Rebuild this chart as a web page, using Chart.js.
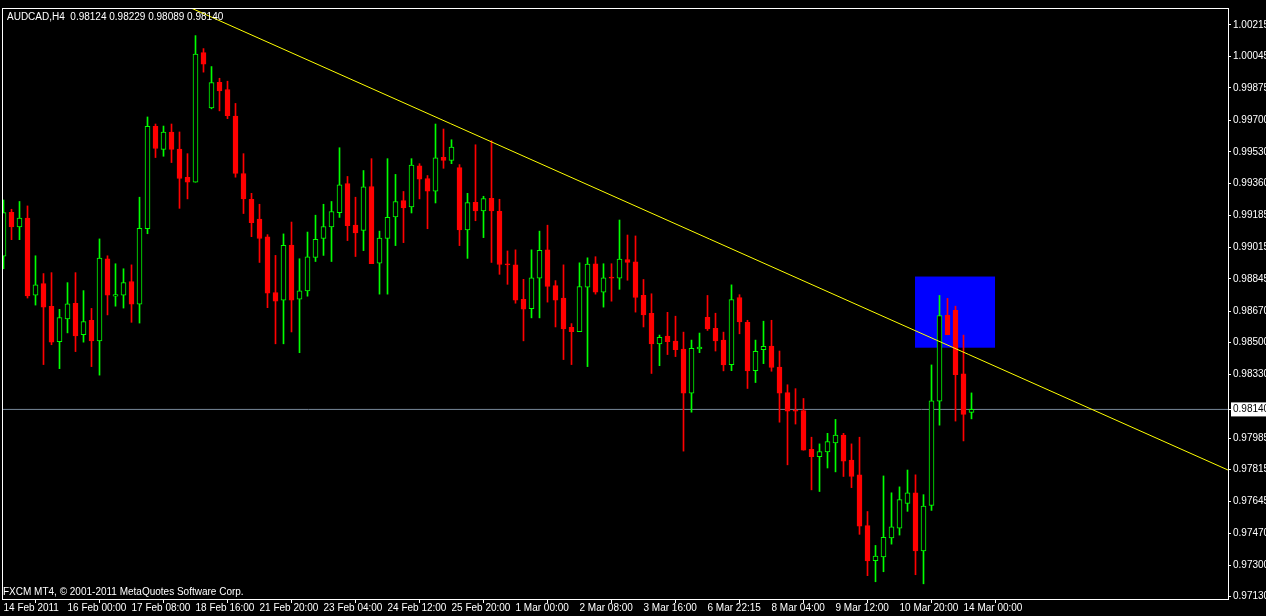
<!DOCTYPE html>
<html>
<head>
<meta charset="utf-8">
<title>AUDCAD H4</title>
<script src="https://cdn.jsdelivr.net/npm/chart.js@4"></script>
<style>
  html, body { margin: 0; padding: 0; background: #000; }
  canvas { display: block; }
</style>
</head>
<body>
<canvas id="chart" width="1266" height="616"></canvas>
<script>
// --- 1. DATA (AUDCAD H4) ---

const symbol = 'AUDCAD';
const period = 'H4';

// one entry per H4 bar, bar index 0..121
const opens = [
  0.98967, 0.99204, 0.99125, 0.99172, 0.98757, 0.98819, 0.98696, 0.98505, 0.98628, 0.98712,
  0.98543, 0.98621, 0.98510, 0.98953, 0.98751, 0.98757, 0.98830, 0.98708, 0.99115, 0.99668,
  0.99543, 0.99637, 0.99545, 0.99392, 0.99366, 1.00065, 0.99767, 0.99905, 0.99866, 0.99723,
  0.99413, 0.99274, 0.99167, 0.99071, 0.98771, 0.98730, 0.99027, 0.98735, 0.98780, 0.98960,
  0.99062, 0.99125, 0.99202, 0.99359, 0.99134, 0.99106, 0.99343, 0.98929, 0.99062, 0.99179,
  0.99267, 0.99232, 0.99455, 0.99385, 0.99318, 0.99500, 0.99484, 0.99445, 0.99109, 0.99258,
  0.99211, 0.99279, 0.99209, 0.98926, 0.98920, 0.98734, 0.98683, 0.98848, 0.99001, 0.98808,
  0.98741, 0.98583, 0.98560, 0.98799, 0.98926, 0.98772, 0.98851, 0.98848, 0.98948, 0.98937,
  0.98755, 0.98659, 0.98494, 0.98536, 0.98509, 0.98466, 0.98227, 0.98467, 0.98637, 0.98578,
  0.98514, 0.98382, 0.98744, 0.98610, 0.98349, 0.98462, 0.98482, 0.98369, 0.98231, 0.98135,
  0.98134, 0.97925, 0.97885, 0.97911, 0.97959, 0.98001, 0.97867, 0.97787, 0.97513, 0.97324,
  0.97344, 0.97446, 0.97499, 0.97633, 0.97690, 0.97376, 0.97622, 0.98184, 0.98648, 0.98674,
  0.98332, 0.98124
];
const highs = [
  0.99270, 0.99220, 0.99262, 0.99238, 0.98969, 0.98873, 0.98878, 0.98680, 0.98824, 0.98878,
  0.98781, 0.98685, 0.99060, 0.98969, 0.98926, 0.98899, 0.98920, 0.99285, 0.99718, 0.99680,
  0.99669, 0.99680, 0.99637, 0.99520, 1.00157, 1.00087, 0.99990, 0.99927, 0.99911, 0.99791,
  0.99520, 0.99306, 0.99247, 0.99083, 0.98971, 0.99087, 0.99151, 0.98953, 0.99097, 0.99188,
  0.99247, 0.99262, 0.99552, 0.99397, 0.99285, 0.99429, 0.99493, 0.99102, 0.99493, 0.99408,
  0.99316, 0.99493, 0.99466, 0.99402, 0.99680, 0.99653, 0.99595, 0.99461, 0.99306, 0.99568,
  0.99290, 0.99590, 0.99274, 0.98995, 0.99001, 0.98842, 0.99001, 0.99102, 0.99134, 0.98835,
  0.98920, 0.98603, 0.98931, 0.98958, 0.98964, 0.98926, 0.98926, 0.99162, 0.99081, 0.99076,
  0.98841, 0.98764, 0.98541, 0.98664, 0.98643, 0.98557, 0.98514, 0.98552, 0.98755, 0.98659,
  0.98557, 0.98812, 0.98759, 0.98621, 0.98514, 0.98616, 0.98621, 0.98455, 0.98273, 0.98252,
  0.98199, 0.97990, 0.97954, 0.98011, 0.98086, 0.98011, 0.97954, 0.97990, 0.97589, 0.97406,
  0.97781, 0.97690, 0.97722, 0.97813, 0.97787, 0.97680, 0.98380, 0.98755, 0.98739, 0.98697,
  0.98541, 0.98229
];
const lows = [
  0.98899, 0.99056, 0.99056, 0.98741, 0.98703, 0.98382, 0.98489, 0.98360, 0.98553, 0.98452,
  0.98503, 0.98371, 0.98325, 0.98650, 0.98697, 0.98687, 0.98610, 0.98606, 0.99088, 0.99499,
  0.99506, 0.99472, 0.99225, 0.99276, 0.99366, 0.99960, 0.99762, 0.99751, 0.99709, 0.99393,
  0.99197, 0.99072, 0.98933, 0.98689, 0.98494, 0.98494, 0.98558, 0.98446, 0.98751, 0.98938,
  0.98971, 0.98938, 0.99176, 0.99051, 0.98965, 0.98997, 0.98927, 0.98762, 0.98762, 0.99024,
  0.99040, 0.99200, 0.99276, 0.99115, 0.99254, 0.99441, 0.99466, 0.99024, 0.98955, 0.99158,
  0.99067, 0.98933, 0.98869, 0.98815, 0.98713, 0.98510, 0.98634, 0.98634, 0.98719, 0.98585,
  0.98409, 0.98382, 0.98560, 0.98371, 0.98762, 0.98692, 0.98724, 0.98788, 0.98837, 0.98665,
  0.98585, 0.98334, 0.98376, 0.98436, 0.98425, 0.97915, 0.98125, 0.98446, 0.98566, 0.98455,
  0.98348, 0.98349, 0.98548, 0.98253, 0.98285, 0.98387, 0.98346, 0.98071, 0.97841, 0.98061,
  0.97920, 0.97706, 0.97697, 0.97824, 0.97803, 0.97778, 0.97718, 0.97466, 0.97243, 0.97210,
  0.97264, 0.97413, 0.97462, 0.97590, 0.97248, 0.97199, 0.97595, 0.98055, 0.98543, 0.98077,
  0.97970, 0.98089
];
const closes = [
  0.99202, 0.99125, 0.99172, 0.98753, 0.98812, 0.98692, 0.98503, 0.98636, 0.98710, 0.98537,
  0.98614, 0.98510, 0.98957, 0.98757, 0.98760, 0.98824, 0.98708, 0.99117, 0.99668, 0.99548,
  0.99636, 0.99543, 0.99386, 0.99366, 1.00058, 1.00003, 0.99904, 0.99858, 0.99725, 0.99414,
  0.99276, 0.99147, 0.99062, 0.98767, 0.98724, 0.99026, 0.98730, 0.98780, 0.98964, 0.99058,
  0.99127, 0.99208, 0.99352, 0.99131, 0.99093, 0.99341, 0.98927, 0.99064, 0.99176, 0.99262,
  0.99227, 0.99459, 0.99383, 0.99318, 0.99497, 0.99484, 0.99555, 0.99109, 0.99256, 0.99211,
  0.99278, 0.99211, 0.98922, 0.98920, 0.98730, 0.98681, 0.98850, 0.98999, 0.98804, 0.98730,
  0.98574, 0.98560, 0.98803, 0.98924, 0.98772, 0.98850, 0.98848, 0.98951, 0.98933, 0.98744,
  0.98650, 0.98494, 0.98529, 0.98505, 0.98462, 0.98227, 0.98469, 0.98476, 0.98574, 0.98509,
  0.98380, 0.98732, 0.98612, 0.98348, 0.98453, 0.98480, 0.98366, 0.98227, 0.98130, 0.98130,
  0.97920, 0.97885, 0.97913, 0.97966, 0.98001, 0.97861, 0.97778, 0.97510, 0.97322, 0.97348,
  0.97450, 0.97506, 0.97653, 0.97690, 0.97376, 0.97619, 0.98186, 0.98646, 0.98543, 0.98327,
  0.98113, 0.98140
];

// time axis: a label every 8 bars
const xTickBars = [0, 8, 16, 24, 32, 40, 48, 56, 64, 72, 80, 88, 96, 104, 112, 120];
const xTickLabels = [
  '14 Feb 2011', '16 Feb 00:00', '17 Feb 08:00', '18 Feb 16:00', '21 Feb 20:00',
  '23 Feb 04:00', '24 Feb 12:00', '25 Feb 20:00', '1 Mar 00:00', '2 Mar 08:00',
  '3 Mar 16:00', '6 Mar 22:15', '8 Mar 04:00', '9 Mar 12:00', '10 Mar 20:00', '14 Mar 00:00'
];

// price axis labels
const yTickValues = [
  1.00215, 1.00045, 0.99875, 0.99700, 0.99530, 0.99360, 0.99185, 0.99015, 0.98845,
  0.98670, 0.98500, 0.98330, 0.98140, 0.97985, 0.97815, 0.97645, 0.97470, 0.97300, 0.97130
];

const bidPrice = 0.98140;

// trend line anchors (bar index, price)
const trendX = [23.44, 153.06];
const trendY = [1.00306, 0.97813];

// blue rectangle object (bar index range, price range)
const boxX = [113.94, 123.94];
const boxY = [0.98473, 0.98857];

const copyrightText = 'FXCM MT4, \u00a9 2001-2011 MetaQuotes Software Corp.';

// visible range of the window
const xMin = -0.1875, xMax = 153.0625;
const yMin = 0.97117, yMax = 1.00306;

// --- 2. BUILD DATASETS ---

const GREEN = '#00ff00';
const RED = '#ff0000';
const FONT = { family: '"Liberation Sans", Arial, sans-serif', size: 10 };

const isUp = closes.map((c, i) => c >= opens[i]);
const wickData = opens.map((o, i) => ({ x: i, y: [lows[i], highs[i]] }));
const bodyData = opens.map((o, i) => ({ x: i, y: [o, closes[i]] }));

const last = opens.length - 1;
const titleText = symbol + ',' + period + '  ' +
  [opens[last], highs[last], lows[last], closes[last]].map(v => v.toFixed(5)).join(' ');

// black background, blue box behind the candles
const backdropPlugin = {
  id: 'backdrop',
  beforeDraw(chart) {
    const { ctx, width, height } = chart;
    ctx.save();
    ctx.fillStyle = '#000';
    ctx.fillRect(0, 0, width, height);
    ctx.restore();
  },
  beforeDatasetsDraw(chart) {
    const { ctx, chartArea, scales } = chart;
    const x0 = scales.x.getPixelForValue(boxX[0]);
    const x1 = scales.x.getPixelForValue(boxX[1]);
    const y0 = scales.y.getPixelForValue(boxY[1]);
    const y1 = scales.y.getPixelForValue(boxY[0]);
    ctx.save();
    ctx.beginPath();
    ctx.rect(chartArea.left, chartArea.top, chartArea.width, chartArea.height);
    ctx.clip();
    ctx.fillStyle = '#0000ff';
    ctx.fillRect(x0, y0, x1 - x0, y1 - y0);
    ctx.restore();
  }
};

// white frame + the two text lines MT4 prints on the chart
const framePlugin = {
  id: 'frame',
  afterDraw(chart) {
    const { ctx, chartArea } = chart;
    ctx.save();
    ctx.strokeStyle = '#fff';
    ctx.lineWidth = 1;
    ctx.strokeRect(chartArea.left + 0.5, chartArea.top + 0.5,
      chartArea.right - chartArea.left, chartArea.bottom - chartArea.top);
    ctx.fillStyle = '#fff';
    ctx.font = FONT.size + 'px ' + FONT.family;
    ctx.textBaseline = 'alphabetic';
    ctx.fillText(titleText, chartArea.left + 5, chartArea.top + 12);
    ctx.fillText(copyrightText, chartArea.left + 1, chartArea.bottom - 4);
    ctx.restore();
  }
};

// --- 3. CHART ---

const chart = new Chart(document.getElementById('chart'), {
  type: 'bar',
  data: {
    datasets: [
      {
        type: 'line',
        data: [{ x: xMin, y: bidPrice }, { x: xMax, y: bidPrice }],
        borderColor: '#778899',
        borderWidth: 1,
        pointRadius: 0,
        order: 4,
        clip: 0
      },
      {
        data: wickData,
        backgroundColor: isUp.map(u => u ? GREEN : RED),
        borderWidth: 0,
        barThickness: 1,
        grouped: false,
        order: 3,
        clip: 0
      },
      {
        data: bodyData,
        backgroundColor: isUp.map(u => u ? '#000' : RED),
        borderColor: isUp.map(u => u ? GREEN : RED),
        borderWidth: 1,
        borderSkipped: false,
        barThickness: 5,
        minBarLength: 1,
        grouped: false,
        order: 2,
        clip: 0
      },
      {
        type: 'line',
        data: [{ x: trendX[0], y: trendY[0] }, { x: trendX[1], y: trendY[1] }],
        borderColor: '#ffff00',
        borderWidth: 1,
        pointRadius: 0,
        order: 1,
        clip: 0
      }
    ]
  },
  options: {
    responsive: false,
    animation: false,
    devicePixelRatio: 1,
    layout: { padding: { left: 2, top: 3, right: 0, bottom: 0 } },
    plugins: {
      legend: { display: false },
      tooltip: { enabled: false }
    },
    scales: {
      x: {
        type: 'linear',
        position: 'bottom',
        min: xMin,
        max: xMax,
        offset: false,
        afterBuildTicks: scale => { scale.ticks = xTickBars.map(v => ({ value: v })); },
        afterFit: scale => { scale.height = 17; },
        border: { display: false },
        grid: { drawOnChartArea: false, drawTicks: true, tickLength: 4, color: '#fff' },
        ticks: {
          color: '#fff',
          font: FONT,
          align: 'start',
          padding: -1,
          maxRotation: 0,
          autoSkip: false,
          callback: (value, index) => xTickLabels[index]
        }
      },
      y: {
        type: 'linear',
        position: 'right',
        min: yMin,
        max: yMax,
        afterBuildTicks: scale => { scale.ticks = yTickValues.map(v => ({ value: v })); },
        afterFit: scale => { scale.width = 38; },
        border: { display: false },
        grid: { drawOnChartArea: false, drawTicks: true, tickLength: 3, color: '#fff' },
        ticks: {
          color: ctx => (ctx.tick && Math.abs(ctx.tick.value - bidPrice) < 1e-7) ? '#000' : '#fff',
          font: FONT,
          padding: 2,
          autoSkip: false,
          showLabelBackdrop: true,
          backdropColor: ctx => (ctx.tick && Math.abs(ctx.tick.value - bidPrice) < 1e-7) ? '#fff' : 'rgba(0,0,0,0)',
          backdropPadding: { top: 1, bottom: 1, left: 2, right: 4 },
          callback: value => value.toFixed(5)
        }
      }
    }
  },
  plugins: [backdropPlugin, framePlugin]
});
</script>
</body>
</html>
